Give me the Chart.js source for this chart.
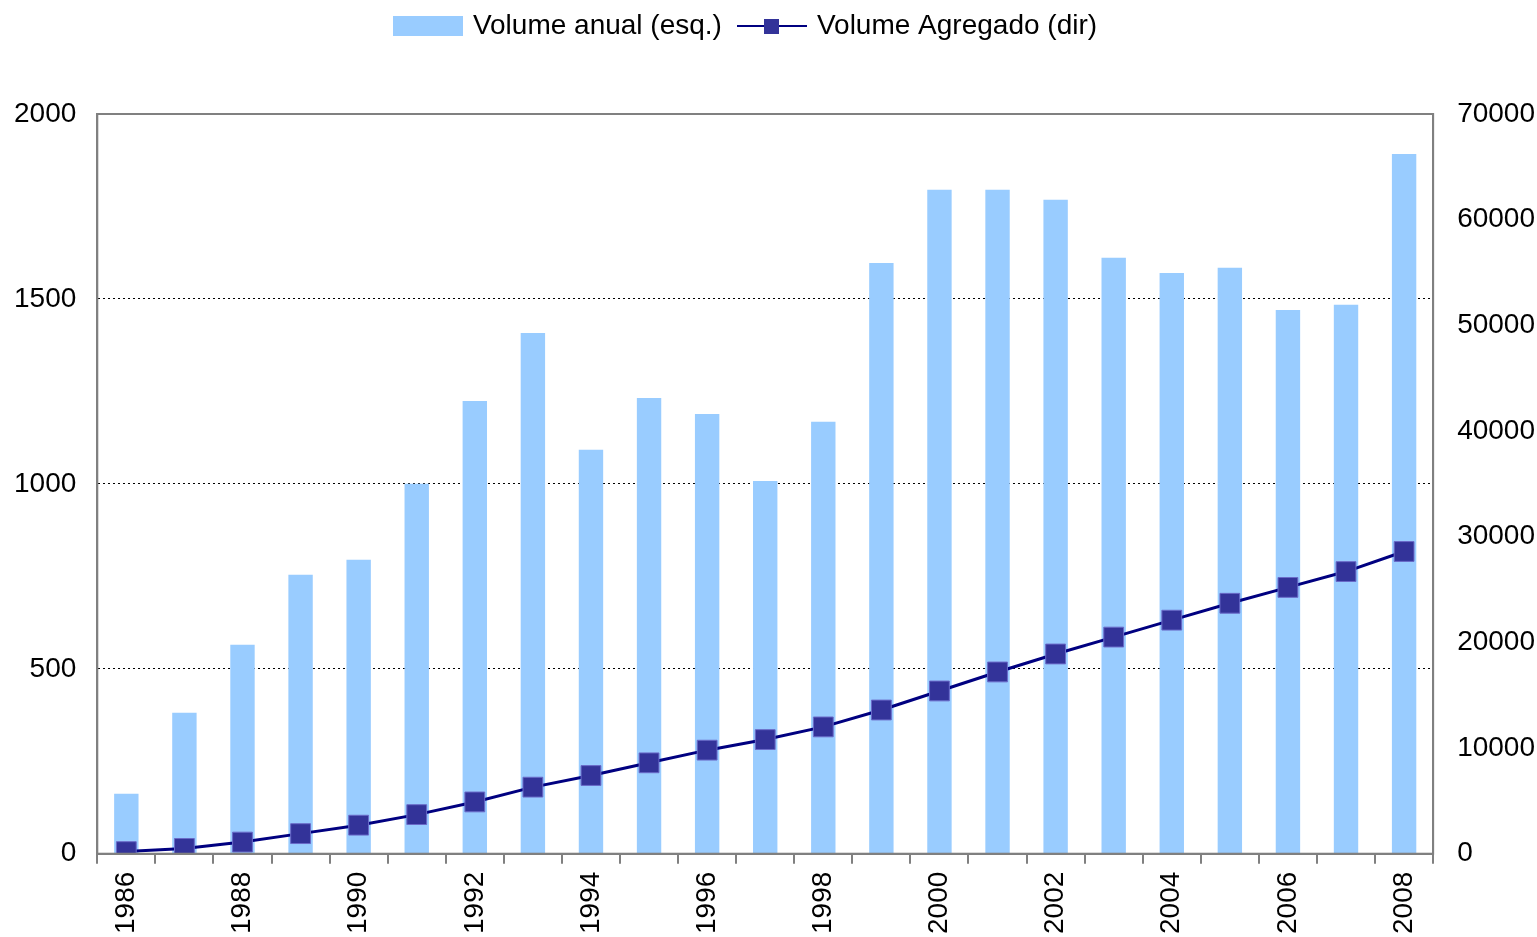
<!DOCTYPE html>
<html>
<head>
<meta charset="utf-8">
<script src="https://cdn.jsdelivr.net/npm/chart.js@4.4.1/dist/chart.umd.min.js"></script>
<style>
  body { margin: 0; background: #fff; }
  #wrap { width: 1537px; height: 937px; position: relative; }
</style>
</head>
<body>
<div id="wrap"><canvas id="volChart"></canvas></div>
<script>
const years = ['1986', '1987', '1988', '1989', '1990', '1991', '1992', '1993', '1994', '1995', '1996', '1997',
    '1998', '1999', '2000', '2001', '2002', '2003', '2004', '2005', '2006', '2007', '2008'];

// Volume anual (left axis)
const annualVolume = [162, 381, 565, 754, 795, 1000, 1224, 1408, 1092, 1232, 1189, 1008,
    1168, 1597, 1795, 1795, 1768, 1611, 1570, 1584, 1470, 1484, 1892];

// Volume agregado (right axis)
const aggregateVolume = [200, 500, 1100, 1900, 2700, 3700, 4900, 6300, 7400, 8600, 9800, 10800,
    12000, 13600, 15400, 17200, 18900, 20500, 22100, 23700, 25200, 26700, 28600];

const leftTicks = [0, 500, 1000, 1500, 2000];
const rightTicks = [0, 10000, 20000, 30000, 40000, 50000, 60000, 70000];

const barColor = '#99CCFF';
const lineColor = '#000080';
const markerColor = '#333399';
const frameColor = '#808080';

// small canvases used as legend symbols
const makeBarSymbol = () => {
    const c = document.createElement('canvas');
    c.width = 70; c.height = 20;
    const g = c.getContext('2d');
    g.fillStyle = barColor;
    g.fillRect(0, 0, 70, 20);
    return c;
};
const makeLineSymbol = () => {
    const c = document.createElement('canvas');
    c.width = 70; c.height = 20;
    const g = c.getContext('2d');
    g.strokeStyle = lineColor;
    g.lineWidth = 2;
    g.beginPath(); g.moveTo(0, 10); g.lineTo(70, 10); g.stroke();
    g.fillStyle = markerColor;
    g.fillRect(27, 3, 15, 15);
    return c;
};
const legendSymbols = [makeBarSymbol(), makeLineSymbol()];

// extra room under the legend, and legend nudged up and to the left
const legendTweaks = {
    id: 'legendTweaks',
    beforeInit(chart) {
        const fit = chart.legend.fit;
        chart.legend.fit = function () {
            fit.bind(chart.legend)();
            this.height += 57;
        };
    },
    afterLayout(chart) {
        const lg = chart.legend;
        lg.left -= 29;
        lg.right -= 29;
        lg.top -= 7;
        lg.bottom -= 7;
    }
};

// grey box round the plot area
const plotFrame = {
    id: 'plotFrame',
    afterDatasetsDraw(chart) {
        const { ctx, chartArea: a } = chart;
        ctx.save();
        ctx.strokeStyle = frameColor;
        ctx.lineWidth = 2;
        ctx.strokeRect(a.left, a.top, a.right - a.left, a.bottom - a.top);
        ctx.restore();
    }
};

const font = { family: '"Liberation Sans", Arial, sans-serif', size: 28 };

new Chart(document.getElementById('volChart'), {
    data: {
        labels: years,
        datasets: [{
            type: 'bar',
            label: 'Volume anual (esq.)',
            data: annualVolume,
            backgroundColor: barColor,
            yAxisID: 'y',
            barPercentage: 0.42,
            categoryPercentage: 1,
            order: 1
        }, {
            type: 'line',
            label: 'Volume Agregado (dir)',
            data: aggregateVolume,
            borderColor: lineColor,
            borderWidth: 3,
            pointStyle: 'rect',
            pointRadius: 14,
            pointBackgroundColor: markerColor,
            pointBorderColor: '#6a6ac8',
            pointBorderWidth: 1,
            tension: 0,
            yAxisID: 'y1',
            order: 0
        }]
    },
    options: {
        responsive: true,
        maintainAspectRatio: false,
        animation: false,
        layout: { padding: { left: -7, right: -22, top: 0, bottom: -5 } },
        plugins: {
            legend: {
                position: 'top',
                labels: {
                    font: font,
                    color: '#000',
                    usePointStyle: true,
                    pointStyleWidth: 62,
                    boxHeight: 20,
                    padding: 19,
                    generateLabels(chart) {
                        const items = Chart.defaults.plugins.legend.labels.generateLabels(chart);
                        items.forEach(it => { it.pointStyle = legendSymbols[it.datasetIndex]; });
                        return items;
                    },
                    sort: (a, b) => a.datasetIndex - b.datasetIndex
                }
            },
            tooltip: { enabled: false }
        },
        scales: {
            x: {
                offset: true,
                grid: {
                    offset: true,
                    drawOnChartArea: false,
                    color: frameColor,
                    lineWidth: 2,
                    tickLength: 10
                },
                border: { color: frameColor, width: 2 },
                ticks: {
                    font: font,
                    color: '#000',
                    autoSkip: false,
                    maxRotation: 90,
                    minRotation: 90,
                    padding: 8,
                    callback: (v, i) => (i % 2 === 0 ? years[i] : '')
                }
            },
            y: {
                position: 'left',
                min: leftTicks[0],
                max: leftTicks[leftTicks.length - 1],
                afterBuildTicks: (axis) => { axis.ticks = leftTicks.map(v => ({ value: v })); },
                grid: {
                    drawTicks: false,
                    color: (c) => (c.tick && (c.tick.value === 0 || c.tick.value === 2000) ? 'rgba(0,0,0,0)' : '#000'),
                    lineWidth: 1
                },
                border: { color: frameColor, width: 2, dash: [2, 3] },
                ticks: { font: font, color: '#000', padding: 21, callback: (v) => String(v) }
            },
            y1: {
                position: 'right',
                min: rightTicks[0],
                max: rightTicks[rightTicks.length - 1],
                afterBuildTicks: (axis) => { axis.ticks = rightTicks.map(v => ({ value: v })); },
                grid: { drawOnChartArea: false, drawTicks: false },
                border: { color: frameColor, width: 2 },
                ticks: { font: font, color: '#000', padding: 24, callback: (v) => String(v) }
            }
        }
    },
    plugins: [legendTweaks, plotFrame]
});
</script>
</body>
</html>
